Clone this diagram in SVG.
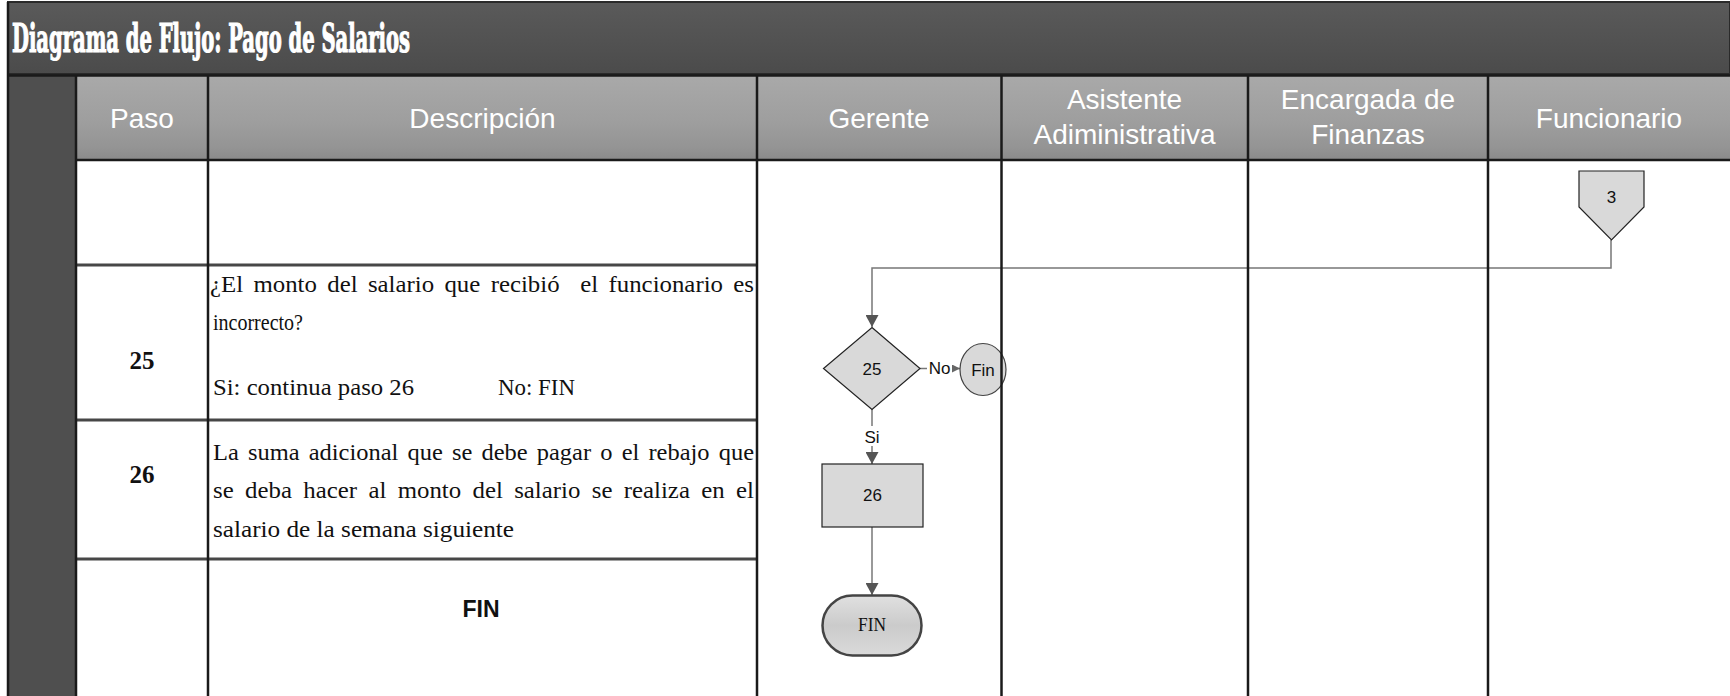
<svg xmlns="http://www.w3.org/2000/svg" width="1730" height="696" viewBox="0 0 1730 696">
  <defs>
    <linearGradient id="gTitle" x1="0" y1="0" x2="0" y2="1">
      <stop offset="0" stop-color="#5a5a5a"/>
      <stop offset="1" stop-color="#4b4b4b"/>
    </linearGradient>
    <linearGradient id="gHead" x1="0" y1="0" x2="0" y2="1">
      <stop offset="0" stop-color="#a9a9a9"/>
      <stop offset="0.55" stop-color="#9e9e9e"/>
      <stop offset="0.85" stop-color="#949494"/>
      <stop offset="1" stop-color="#8a8a8a"/>
    </linearGradient>
    <linearGradient id="gTerm" x1="0" y1="0" x2="0" y2="1">
      <stop offset="0" stop-color="#e0e0e0"/>
      <stop offset="0.5" stop-color="#cbcbcb"/>
      <stop offset="1" stop-color="#dadada"/>
    </linearGradient>
    <marker id="arrow" viewBox="0 0 12 13" refX="12" refY="6.5" markerWidth="12" markerHeight="13" markerUnits="userSpaceOnUse" orient="auto">
      <path d="M0,0 L12,6.5 L0,13 Z" fill="#555"/>
    </marker>
    <marker id="arrowSmall" viewBox="0 0 8 8" refX="8" refY="4" markerWidth="8" markerHeight="8" markerUnits="userSpaceOnUse" orient="auto">
      <path d="M0,0 L8,4 L0,8 Z" fill="#666"/>
    </marker>
    <style>
      .hdr { font-family: "Liberation Sans", Arial, sans-serif; font-size: 28px; fill: #ffffff; text-anchor: middle; }
      .desc { font-family: "Liberation Serif", "Times New Roman", serif; font-size: 24px; fill: #111; }
      .step { font-family: "Liberation Serif", "Times New Roman", serif; font-size: 25px; font-weight: bold; fill: #111; text-anchor: middle; }
      .lbl { font-family: "Liberation Sans", Arial, sans-serif; font-size: 17px; fill: #111; text-anchor: middle; }
      .shape { fill: #d9d9d9; stroke: #222; stroke-width: 1.2; }
      .conn { fill: none; stroke: #777; stroke-width: 1.5; }
      .grid { stroke: #1a1a1a; stroke-width: 2.5; }
      .row { stroke: #474747; stroke-width: 3; }
    </style>
  </defs>

  <rect x="0" y="0" width="1730" height="696" fill="#ffffff"/>

  <!-- title bar -->
  <g id="title">
    <rect x="8" y="2" width="1722" height="72" fill="url(#gTitle)" stroke="#2a2a2a" stroke-width="2"/>
    <text x="12" y="52" font-family="'DejaVu Serif Condensed', 'DejaVu Serif', serif" font-weight="bold" font-size="40" fill="#ffffff" stroke="#ffffff" stroke-width="1.2" textLength="398" lengthAdjust="spacingAndGlyphs">Diagrama de Flujo: Pago de Salarios</text>
  </g>

  <!-- left band -->
  <rect x="8" y="75" width="68" height="621" fill="#4f4f4f"/>

  <!-- header row -->
  <g id="header">
    <rect x="76" y="76" width="1654" height="84" fill="url(#gHead)"/>
    <line x1="8" y1="75.5" x2="1730" y2="75.5" stroke="#1a1a1a" stroke-width="2.5"/>
    <line x1="76" y1="160" x2="1730" y2="160" stroke="#1a1a1a" stroke-width="2.5"/>
    <text class="hdr" x="142" y="128">Paso</text>
    <text class="hdr" x="482.5" y="128">Descripción</text>
    <text class="hdr" x="879" y="128">Gerente</text>
    <text class="hdr" x="1124.5" y="109">Asistente</text>
    <text class="hdr" x="1124.5" y="144">Adiministrativa</text>
    <text class="hdr" x="1368" y="109">Encargada de</text>
    <text class="hdr" x="1368" y="144">Finanzas</text>
    <text class="hdr" x="1609" y="128">Funcionario</text>
  </g>

  <!-- row separators in the step / description columns -->
  <g id="rows">
    <line class="row" x1="76" y1="265" x2="757" y2="265"/>
    <line class="row" x1="76" y1="420" x2="757" y2="420"/>
    <line class="row" x1="76" y1="559" x2="757" y2="559"/>
  </g>

  <!-- step 25 -->
  <g id="step25">
    <text class="step" x="142" y="369">25</text>
    <text class="desc" x="210" y="292" word-spacing="4" textLength="544" lengthAdjust="spacingAndGlyphs">¿El monto del salario que recibió&#160; el funcionario es</text>
    <text class="desc" x="213" y="330" textLength="90" lengthAdjust="spacingAndGlyphs">incorrecto?</text>
    <text class="desc" x="213" y="395" textLength="201" lengthAdjust="spacingAndGlyphs">Si: continua paso 26</text>
    <text class="desc" x="498" y="395" textLength="77" lengthAdjust="spacingAndGlyphs">No: FIN</text>
  </g>

  <!-- step 26 -->
  <g id="step26">
    <text class="step" x="142" y="483">26</text>
    <text class="desc" x="213" y="460" word-spacing="3" textLength="541" lengthAdjust="spacingAndGlyphs">La suma adicional que se debe pagar o el rebajo que</text>
    <text class="desc" x="213" y="498" word-spacing="5" textLength="541" lengthAdjust="spacingAndGlyphs">se deba hacer al monto del salario se realiza en el</text>
    <text class="desc" x="213" y="537" textLength="301" lengthAdjust="spacingAndGlyphs">salario de la semana siguiente</text>
  </g>

  <!-- end row -->
  <g id="stepFin">
    <text x="481" y="617" font-family="'Liberation Sans', Arial, sans-serif" font-size="23" font-weight="bold" fill="#111" text-anchor="middle">FIN</text>
  </g>

  <!-- connectors -->
  <g id="connectors">
    <path class="conn" d="M1611,240 L1611,268 L872,268 L872,327" marker-end="url(#arrow)"/>
    <path class="conn" d="M920,368.5 L960,368.5" marker-end="url(#arrowSmall)"/>
    <path class="conn" d="M872,409 L872,464" marker-end="url(#arrow)"/>
    <path class="conn" d="M872,527 L872,595" marker-end="url(#arrow)"/>
    <rect x="927" y="358" width="25" height="20" fill="#ffffff"/>
    <text class="lbl" x="939.5" y="374">No</text>
    <rect x="862" y="426" width="20" height="20" fill="#ffffff"/>
    <text class="lbl" x="872" y="443">Si</text>
  </g>

  <!-- off-page connector 3 -->
  <g id="node3">
    <path class="shape" d="M1579,171 L1644,171 L1644,207 L1611.5,240 L1579,207 Z"/>
    <text class="lbl" x="1611.5" y="203" font-size="16">3</text>
  </g>

  <!-- decision 25 -->
  <g id="node25">
    <path class="shape" d="M872,327.5 L920,368.5 L872,409.5 L823.5,368.5 Z"/>
    <text class="lbl" x="872" y="374.5">25</text>
  </g>

  <!-- Fin circle -->
  <g id="nodeFinCircle">
    <ellipse cx="983" cy="369.5" rx="23" ry="26" fill="#d9d9d9" stroke="#444" stroke-width="1.2"/>
    <text class="lbl" x="983" y="375.5">Fin</text>
  </g>

  <!-- process 26 -->
  <g id="node26">
    <rect class="shape" x="822" y="464" width="101" height="63"/>
    <text class="lbl" x="872.5" y="501">26</text>
  </g>

  <!-- terminator FIN -->
  <g id="nodeFIN">
    <rect x="822.5" y="595.5" width="99" height="60" rx="30" ry="30" fill="url(#gTerm)" stroke="#444" stroke-width="2.5"/>
    <text x="872" y="631" font-family="'Liberation Serif', 'Times New Roman', serif" font-size="18" fill="#111" text-anchor="middle" textLength="28" lengthAdjust="spacingAndGlyphs">FIN</text>
  </g>

  <!-- column lines -->
  <g id="grid">
    <line class="grid" x1="8" y1="2" x2="8" y2="696"/>
    <line class="grid" x1="76" y1="75" x2="76" y2="696"/>
    <line class="grid" x1="208" y1="75" x2="208" y2="696"/>
    <line class="grid" x1="757" y1="75" x2="757" y2="696"/>
    <line class="grid" x1="1001.5" y1="75" x2="1001.5" y2="696"/>
    <line class="grid" x1="1248" y1="75" x2="1248" y2="696"/>
    <line class="grid" x1="1488" y1="75" x2="1488" y2="696"/>
  </g>
</svg>
